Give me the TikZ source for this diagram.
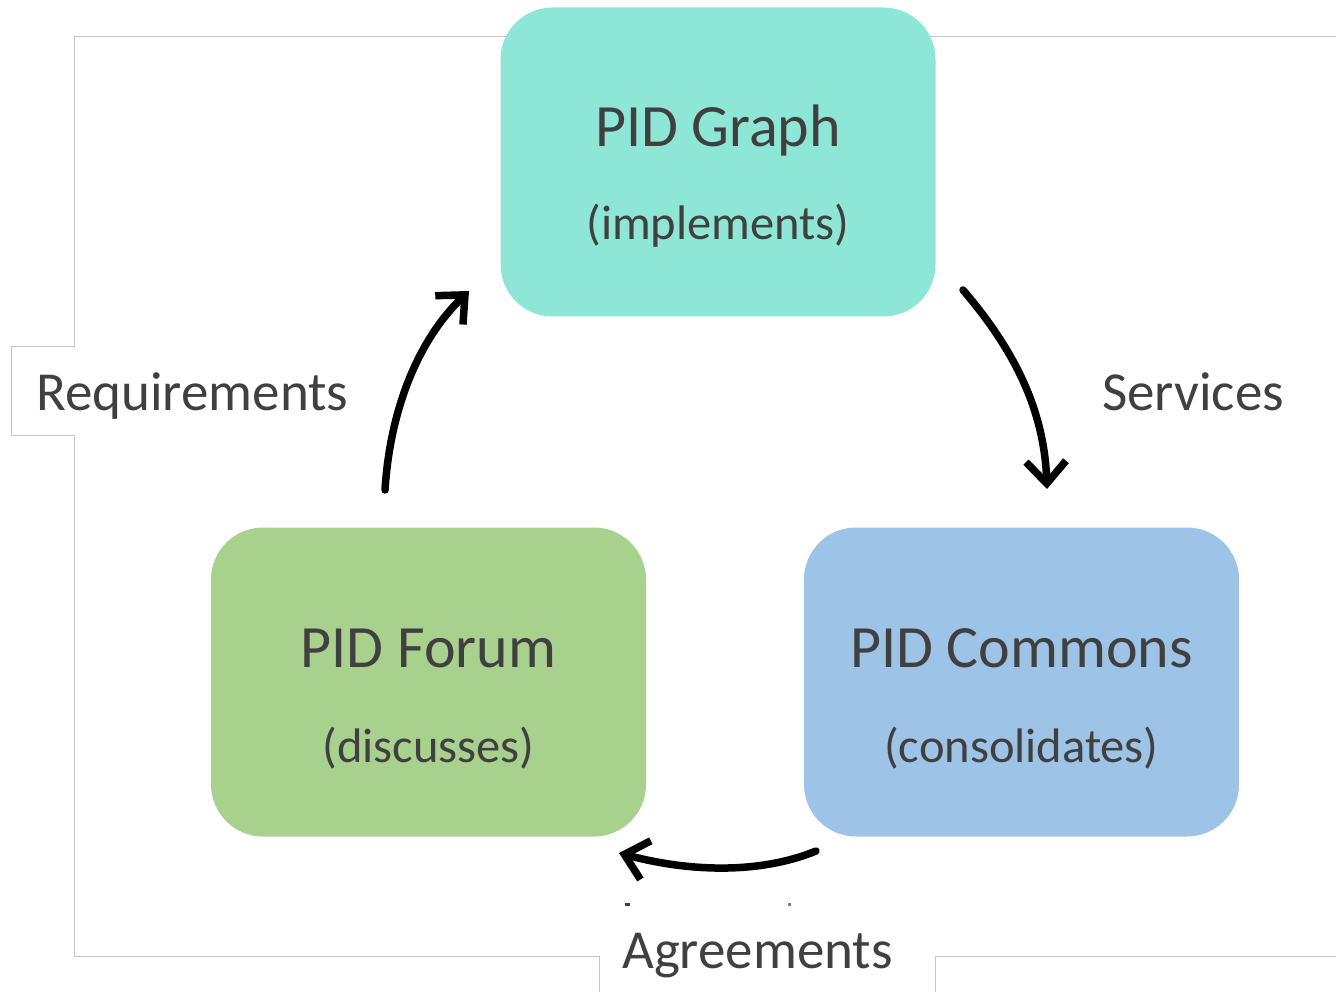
\documentclass[tikz,border=0pt]{standalone}
\usepackage{fontspec}
\setmainfont{Carlito}
\usetikzlibrary{arrows.meta,calc}
\definecolor{txt}{HTML}{404040}
\definecolor{frame}{HTML}{C6C6C6}
\definecolor{graphc}{HTML}{8EE6D6}
\definecolor{forumc}{HTML}{A9D18E}
\definecolor{commc}{HTML}{9DC3E6}
\begin{document}
\begin{tikzpicture}[x=1pt,y=-1pt,
  boxstyle/.style={rectangle,rounded corners=52pt,minimum width=435pt,minimum height=309pt,inner sep=0pt,draw=none},
  titletext/.style={anchor=base,inner sep=0pt,text=txt,font=\fontsize{60}{60}\selectfont},
  subtext/.style={anchor=base,inner sep=0pt,text=txt,font=\fontsize{48.5}{48.5}\selectfont},
  labeltext/.style={anchor=base west,inner sep=0pt,text=txt,font=\fontsize{55}{55}\selectfont},
  framestyle/.style={draw=frame,line width=1pt},
  flow/.style={draw=black,line width=7.5pt,line cap=round,-{Straight Barb[length=22pt,width=40pt,line width=7.5pt]}}]
\useasboundingbox (0,0) rectangle (1336,992);
% frame
\draw[framestyle] (599,992) -- (599,956) -- (74,956) -- (74,435) -- (11,435) -- (11,346) -- (74,346) -- (74,37) -- (1336,37);
\draw[framestyle] (935,992) -- (935,956) -- (1336,956);
% boxes
\node[boxstyle,fill=graphc] (graph) at (718,162) {};
\node[boxstyle,fill=forumc] (forum) at (428.5,682) {};
\node[boxstyle,fill=commc] (commons) at (1021.5,682) {};
% box texts
\node[titletext] (graphT) at ($(graph.north)+(0,139)$) {PID Graph};
\node[subtext] (graphS) at ($(graph.north)+(0,232)$) {(implements)};
\node[titletext] (forumT) at ($(forum.north)+(0,140)$) {PID Forum};
\node[subtext] (forumS) at ($(forum.north)+(0,235)$) {(discusses)};
\node[titletext] (commT) at ($(commons.north)+(0,140)$) {PID Commons};
\node[subtext] (commS) at ($(commons.north)+(0,235)$) {(consolidates)};
% labels
\node[labeltext] (req) at (36,410) {Requirements};
\node[labeltext] (serv) at (1102,410) {Services};
\node[labeltext] (agr) at (622,968) {Agreements};
% arrow ends
\coordinate (r1) at (385,490);
\coordinate (r2) at (469,291);
\coordinate (s1) at (963,290);
\coordinate (s2) at (1047,489);
\coordinate (a1) at (816,851);
\coordinate (a2) at (619,853);
\draw[flow] (r1) .. controls (390,410) and (418,340) .. (r2);
\draw[flow] (s1) .. controls (1010,345) and (1044,405) .. (s2);
\draw[flow] (a1) .. controls (760,874) and (690,872) .. (a2);
% small marks
\fill[txt] (625,903) rectangle (630,906);
\fill[gray] (788,903) rectangle (791,906);
\end{tikzpicture}
\end{document}
